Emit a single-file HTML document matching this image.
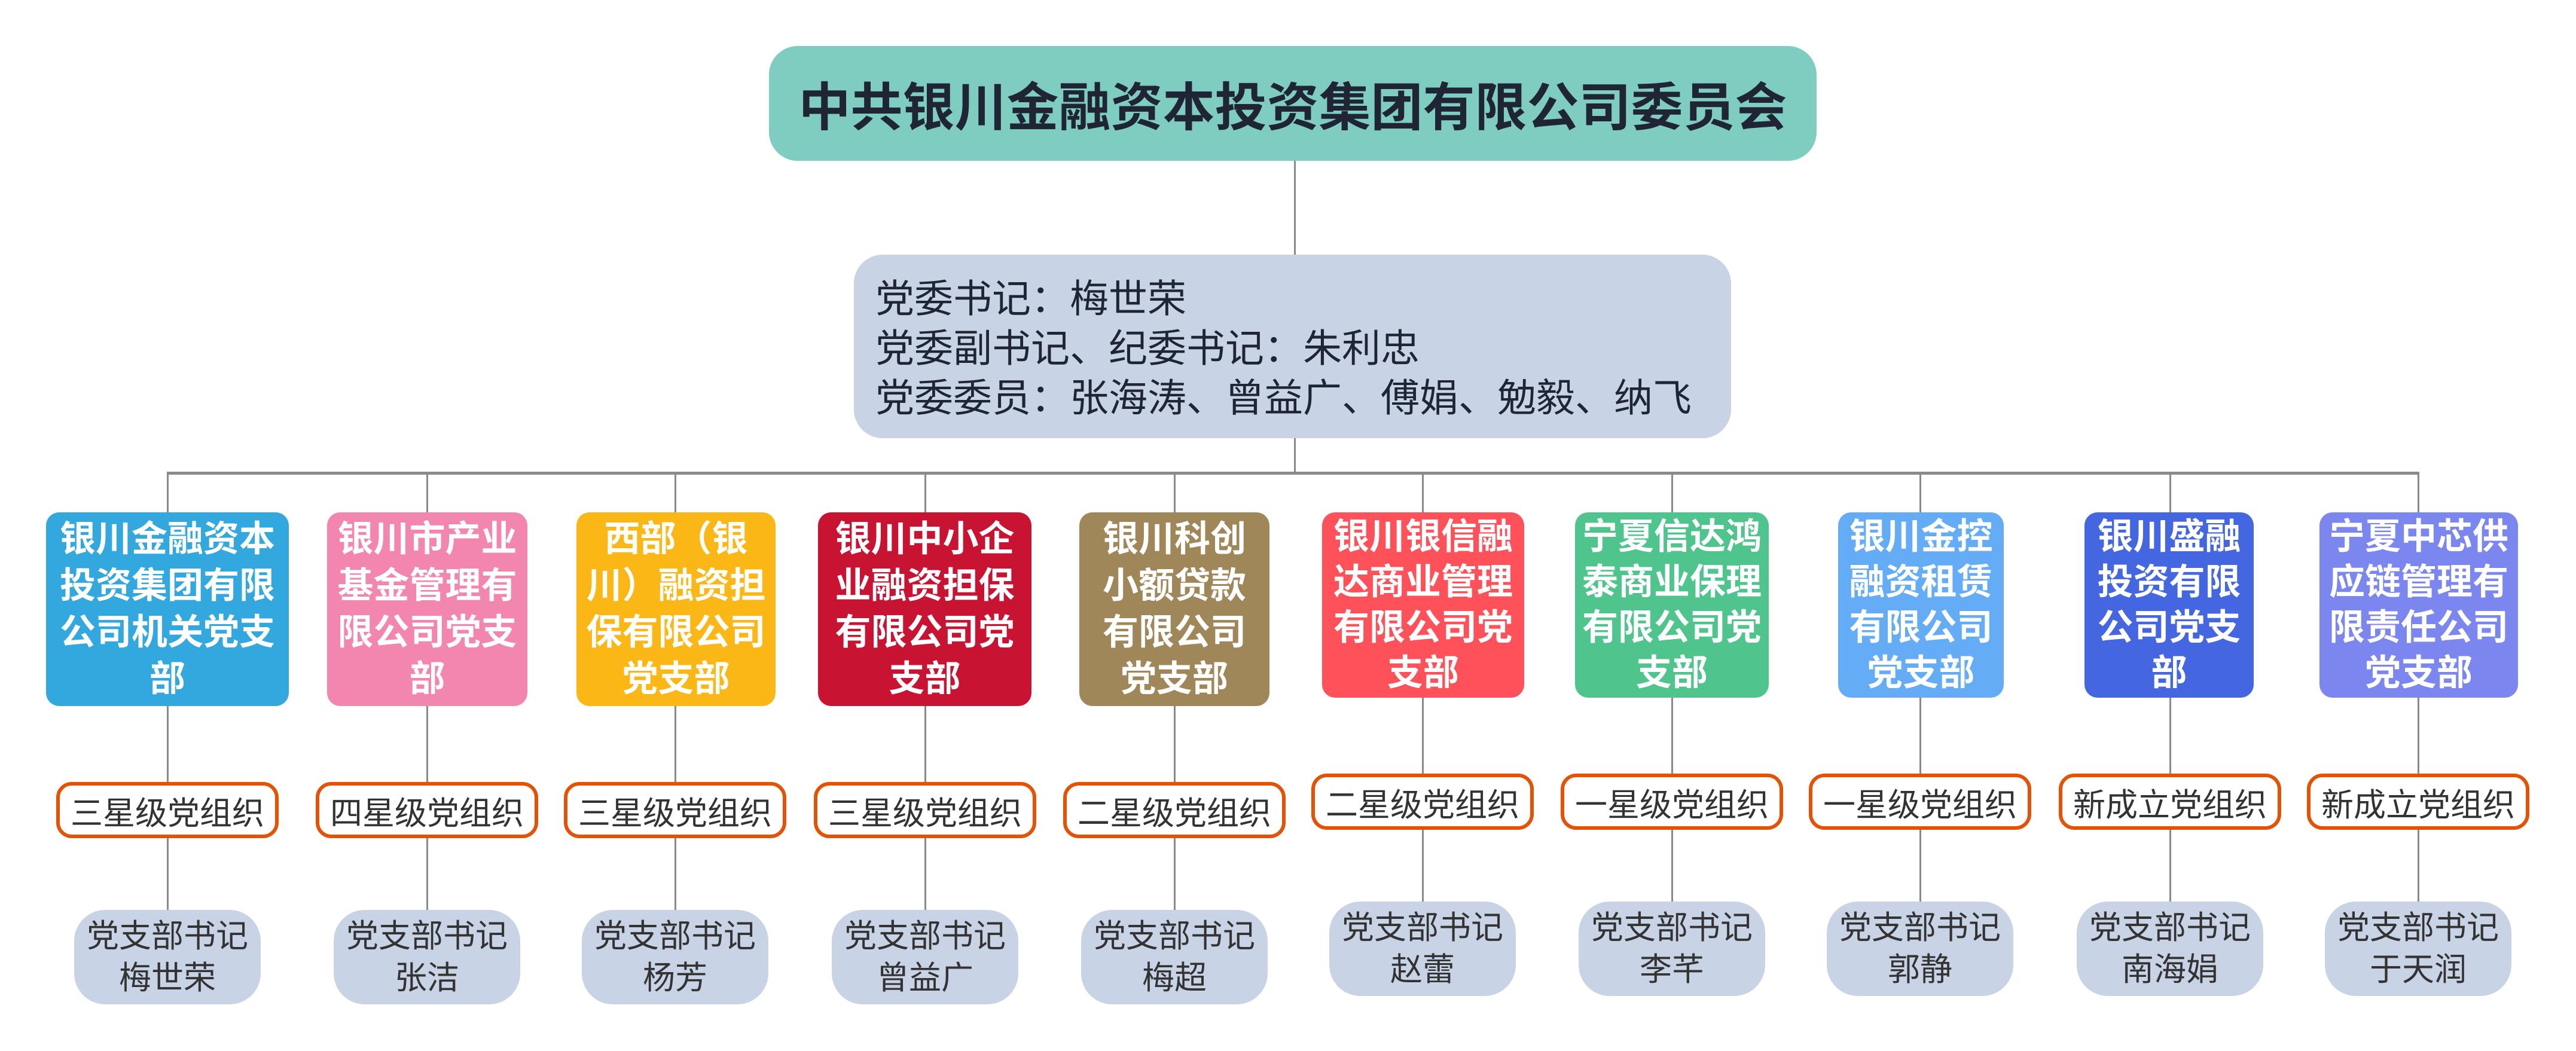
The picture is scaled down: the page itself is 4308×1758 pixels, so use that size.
<!DOCTYPE html>
<html><head><meta charset="utf-8"><style>
body{margin:0;width:4308px;height:1758px;background:#fff;position:relative;overflow:hidden;font-family:"Liberation Sans","Noto Sans CJK SC",sans-serif}
div{position:absolute;box-sizing:border-box}
.l{background:#8a8a8a}
.c{display:flex;align-items:center;justify-content:center;text-align:center;flex-direction:column}
.b{color:#fff;font-weight:bold;font-size:60px;border-radius:22px}
.g{border:6px solid #e35205;border-radius:26px;background:#fff;color:#333;font-size:54px;width:372px;height:94px}
.s{background:#c8d4e5;border-radius:52px;color:#333;font-size:54px;width:312px;height:158px;line-height:70px}
</style></head><body>
<div class="c" style="left:1286px;top:77px;width:1752px;height:192px;background:#7ecdc0;border-radius:48px;font-size:87px;font-weight:bold;color:#1f2535">中共银川金融资本投资集团有限公司委员会</div>
<div class="l" style="left:2164px;top:269px;width:3px;height:157px"></div>
<div style="left:1428px;top:426px;width:1467px;height:307px;background:#c8d4e5;border-radius:48px;padding:32px 0 0 36px;font-size:65px;line-height:83px;color:#1f2535">党委书记：梅世荣<br>党委副书记、纪委书记：朱利忠<br>党委委员：张海涛、曾益广、傅娟、勉毅、纳飞</div>
<div class="l" style="left:2164px;top:733px;width:3px;height:58px"></div>
<div class="l" style="left:279px;top:789px;width:3767px;height:5px"></div>

<div id="cols"></div>
<script>
var cols=[
[280,77,483,'#33a8df','银川金融资本<br>投资集团有限<br>公司机关党支<br>部','三星级党组织','梅世荣',0],
[714,547,882,'#f386ae','银川市产业<br>基金管理有<br>限公司党支<br>部','四星级党组织','张洁',0],
[1129,964,1297,'#fbb716','西部（银<br>川）融资担<br>保有限公司<br>党支部','三星级党组织','杨芳',0],
[1547,1368,1725,'#c81332','银川中小企<br>业融资担保<br>有限公司党<br>支部','三星级党组织','曾益广',0],
[1964,1805,2123,'#a0875a','银川科创<br>小额贷款<br>有限公司<br>党支部','二星级党组织','梅超',0],
[2379,2211,2549,'#fe5159','银川银信融<br>达商业管理<br>有限公司党<br>支部','二星级党组织','赵蕾',1],
[2796,2634,2958,'#4fc48c','宁夏信达鸿<br>泰商业保理<br>有限公司党<br>支部','一星级党组织','李芊',1],
[3211,3074,3351,'#64acf5','银川金控<br>融资租赁<br>有限公司<br>党支部','一星级党组织','郭静',1],
[3629,3486,3769,'#4466e0','银川盛融<br>投资有限<br>公司党支<br>部','新成立党组织','南海娟',1],
[4044,3879,4211,'#7b86ee','宁夏中芯供<br>应链管理有<br>限责任公司<br>党支部','新成立党组织','于天润',1]];
var h='';
cols.forEach(function(c){
 var x=c[0],r=c[7];
 var bh=r?310:324, lh=r?76:78;
 var gt=r?1294:1308, st=r?1508:1522;
 h+='<div class="l" style="left:'+(x-1)+'px;top:791px;width:3px;height:'+(st-791)+'px"></div>';
 h+='<div class="c b" style="left:'+c[1]+'px;top:857px;width:'+(c[2]-c[1])+'px;height:'+bh+'px;background:'+c[3]+';line-height:'+lh+'px">'+c[4]+'</div>';
 h+='<div class="c g" style="left:'+(x-186)+'px;top:'+gt+'px">'+c[5]+'</div>';
 h+='<div class="c s" style="left:'+(x-156)+'px;top:'+st+'px">党支部书记<br>'+c[6]+'</div>';
});
document.getElementById('cols').outerHTML=h;
</script>
</body></html>
